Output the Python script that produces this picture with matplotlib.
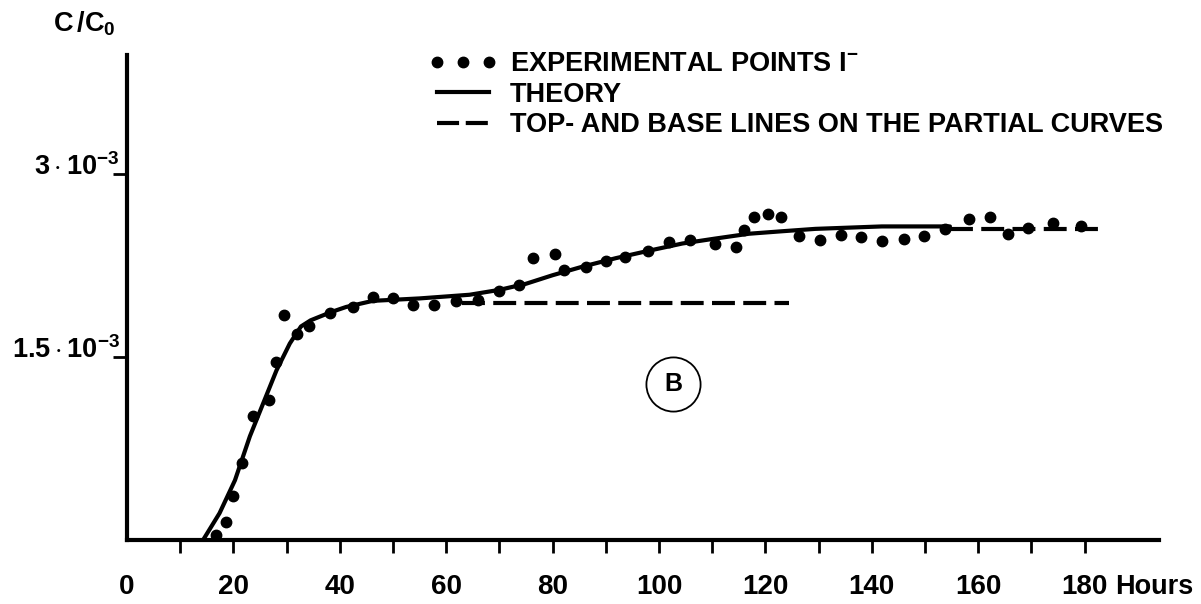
import numpy as np
import matplotlib
matplotlib.use("Agg")
import matplotlib.pyplot as plt
from matplotlib.lines import Line2D

plt.rcParams['font.family'] = ['Liberation Sans', 'DejaVu Sans']
plt.rcParams['font.weight'] = 'bold'
plt.rcParams['mathtext.fontset'] = 'custom'
plt.rcParams['mathtext.rm'] = 'Liberation Sans:bold'
plt.rcParams['mathtext.bf'] = 'Liberation Sans:bold'
plt.rcParams['mathtext.it'] = 'Liberation Sans:bold'

# measured iodide concentration (C/C0, in units of 1e-3) against time in hours
exp_hours = [16.8, 18.6, 19.9, 21.7, 23.7, 26.7, 28.1, 29.5, 32.0, 34.2,
             38.1, 42.5, 46.2, 50.0, 53.8, 57.8, 61.8, 66.0, 70.0, 73.7,
             76.4, 80.5, 82.2, 86.2, 90.0, 93.7, 98.0, 101.9, 105.9, 110.6,
             114.4, 115.9, 117.8, 120.5, 123.0, 126.4, 130.3, 134.2, 138.0, 141.9,
             146.0, 149.9, 153.8, 158.2, 162.2, 165.7, 169.4, 174.1, 179.4]
exp_conc = [0.04, 0.15, 0.36, 0.63, 1.02, 1.15, 1.46, 1.84, 1.69, 1.75,
            1.86, 1.91, 1.99, 1.98, 1.93, 1.93, 1.96, 1.97, 2.04, 2.09,
            2.31, 2.34, 2.21, 2.24, 2.29, 2.32, 2.37, 2.44, 2.46, 2.43,
            2.40, 2.54, 2.65, 2.67, 2.65, 2.49, 2.46, 2.50, 2.48, 2.45,
            2.47, 2.49, 2.55, 2.63, 2.65, 2.51, 2.56, 2.60, 2.57]

# theoretical curve
theory_hours = [14.3, 17.4, 20.3, 23.1, 25.6, 28.1, 30.6, 32.7, 34.5, 36.2,
                38.5, 41.2, 46.2, 55.0, 64.4, 70.0, 75.0, 80.0, 85.6, 91.9, 98.0,
                104.4, 110.5, 116.9, 123.0, 129.4, 141.9, 154.7]
theory_conc = [0.0, 0.22, 0.49, 0.85, 1.12, 1.39, 1.61, 1.75, 1.80, 1.83,
               1.87, 1.91, 1.96, 1.98, 2.01, 2.05, 2.10, 2.17, 2.24, 2.31, 2.37,
               2.43, 2.47, 2.51, 2.53, 2.55, 2.57, 2.57]

# top- and base lines of the partial curves
base_hours = [63.0, 124.4]
base_conc = [1.94, 1.94]
top_hours = [154.7, 183.0]
top_conc = [2.55, 2.55]

x_ticks = list(range(0, 190, 10))
x_labels = [str(t) if t % 20 == 0 else '' for t in x_ticks]
y_ticks = [1.5, 3.0]
y_labels = [r'$1.5\cdot10^{-3}$', r'$3\cdot10^{-3}$']

fig = plt.figure(figsize=(12.01, 6.04), dpi=100)
ax = fig.add_axes([127 / 1201, 64 / 604, 1032 / 1201, 485 / 604])

ax.plot(theory_hours, theory_conc, color='black', lw=3, solid_joinstyle='round',
        solid_capstyle='round', zorder=3)
ax.plot(base_hours, base_conc, color='black', lw=3, dashes=(5.5, 2), zorder=2)
ax.plot(top_hours, top_conc, color='black', lw=3, dashes=(5.5, 2), zorder=2)
ax.plot(exp_hours, exp_conc, 'o', color='black', ms=7.5, zorder=4)

# circled panel letter
ax.plot([102.7], [1.28], marker='o', ms=39, mfc='none', mec='black', mew=1.3)
ax.text(102.7, 1.28, 'B', ha='center', va='center', fontsize=18, fontweight='bold')

ax.set_xlim(0, 194)
ax.set_ylim(0, 3.975)
for side in ['top', 'right']:
    ax.spines[side].set_visible(False)
for side in ['left', 'bottom']:
    ax.spines[side].set_linewidth(3)

ax.set_xticks(x_ticks)
ax.set_xticklabels(x_labels, fontsize=20, fontweight='bold')
ax.tick_params(axis='x', direction='out', length=9.5, width=2, pad=15)
ax.xaxis.get_major_ticks()[0].tick1line.set_visible(False)

ax.set_yticks(y_ticks)
ax.set_yticklabels([])
ax.tick_params(axis='y', direction='out', length=10, width=2)
for val, lab in zip(y_ticks, y_labels):
    ax.annotate(lab, xy=(0, val), xycoords=('axes fraction', 'data'),
                xytext=(-5, 5), textcoords='offset points',
                ha='right', va='center', fontsize=19.5)

fig.text(1115 / 1201, 1 - 587 / 604, 'Hours', ha='left', va='center',
         fontsize=19.5, fontweight='bold')
fig.text(53 / 1201, 1 - 24 / 604, r'$C\,/C_{0}$', ha='left', va='center',
         fontsize=19.5)

handles = [
    Line2D([], [], ls='none', marker='o', color='black', ms=7.5),
    Line2D([], [], color='black', lw=3),
    Line2D([], [], color='black', lw=3, dashes=(5.3, 1.6)),
]
labels = [r'EXPERIMENTAL POINTS I$^{-}$', 'THEORY',
          'TOP- AND BASE LINES ON THE PARTIAL CURVES']
ax.legend(handles, labels, loc='upper left', bbox_to_anchor=(429 / 1201, 1 - 51 / 604),
          bbox_transform=fig.transFigure, frameon=False, numpoints=3,
          handlelength=2.5, handletextpad=0.5, labelspacing=0.17,
          borderpad=0, borderaxespad=0,
          prop={'size': 19.5, 'weight': 'bold'})

fig.savefig('out.png', dpi=100)
